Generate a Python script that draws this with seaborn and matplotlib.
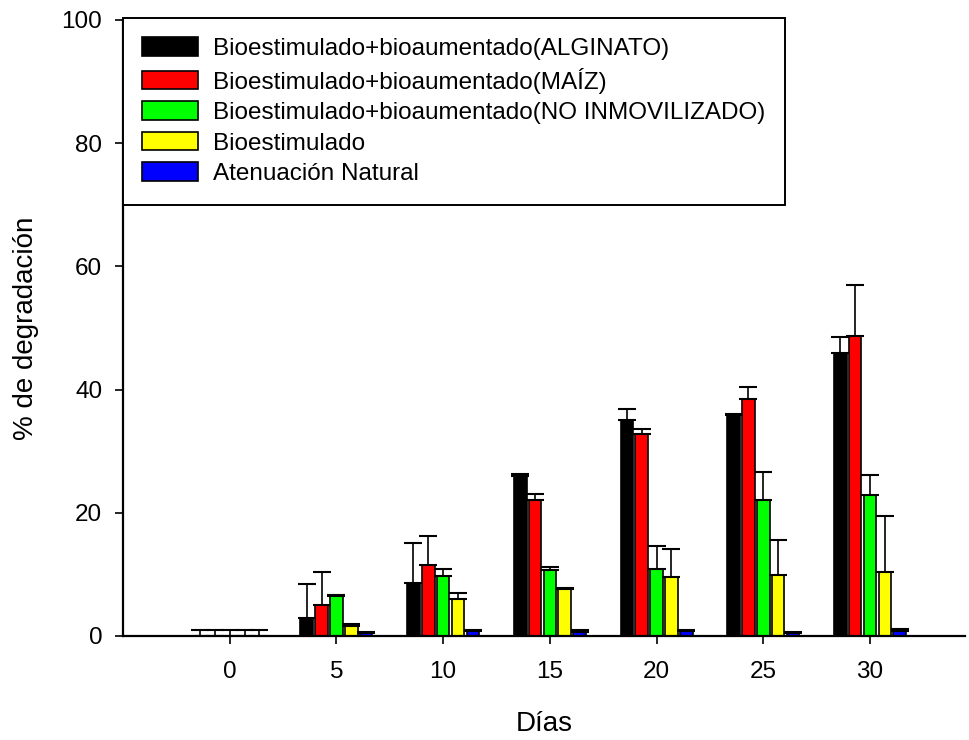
import matplotlib
matplotlib.use("Agg")
import matplotlib.pyplot as plt
import numpy as np
import pandas as pd
import seaborn as sns

# Sampling days and treatments
dias = ["0", "5", "10", "15", "20", "25", "30"]
tratamientos = [
    "Bioestimulado+bioaumentado(ALGINATO)",
    "Bioestimulado+bioaumentado(MAÍZ)",
    "Bioestimulado+bioaumentado(NO INMOVILIZADO)",
    "Bioestimulado",
    "Atenuación Natural",
]
colores = ["#000000", "#ff0000", "#00ff00", "#ffff00", "#0000ff"]

# Mean degradation (%) per treatment
alginato = [0.0, 2.9, 8.55, 26.0, 35.0, 35.9, 46.0]
maiz = [0.0, 5.0, 11.5, 22.1, 32.8, 38.5, 48.7]
no_inmovilizado = [0.0, 6.5, 9.7, 10.7, 10.9, 22.0, 22.9]
bioestimulado = [0.0, 1.6, 5.95, 7.6, 9.6, 9.9, 10.4]
atenuacion = [0.0, 0.45, 0.8, 0.6, 0.8, 0.45, 0.8]

# Standard deviations (drawn upward only)
err_alginato = [0.9, 5.6, 6.5, 0.35, 1.8, 0.08, 2.5]
err_maiz = [0.9, 5.4, 4.7, 1.0, 0.75, 1.9, 8.2]
err_no_inmovilizado = [0.9, 0.2, 1.2, 0.55, 3.65, 4.55, 3.2]
err_bioestimulado = [0.9, 0.3, 1.1, 0.2, 4.5, 5.7, 9.1]
err_atenuacion = [0.9, 0.25, 0.1, 0.3, 0.2, 0.2, 0.3]

medias = [alginato, maiz, no_inmovilizado, bioestimulado, atenuacion]
errores = [err_alginato, err_maiz, err_no_inmovilizado, err_bioestimulado, err_atenuacion]

df = pd.DataFrame(
    [(d, t, m[i], e[i])
     for t, m, e in zip(tratamientos, medias, errores)
     for i, d in enumerate(dias)],
    columns=["dia", "tratamiento", "valor", "error"],
)

sns.set_theme(style="ticks")
plt.rcParams["font.family"] = ["Liberation Sans", "DejaVu Sans"]
plt.rcParams["text.color"] = "black"
plt.rcParams["axes.labelcolor"] = "black"

fig = plt.figure(figsize=(9.69, 7.40), dpi=100)
ax = fig.add_axes([123 / 969, 1 - 636 / 740, (965 - 123) / 969, (636 - 20) / 740])

sns.barplot(
    data=df, x="dia", y="valor", hue="tratamiento",
    order=dias, hue_order=tratamientos, palette=colores, saturation=1,
    errorbar=None, width=0.695, gap=0.15,
    edgecolor="black", linewidth=1.2, ax=ax,
)

# One-sided error bars on top of each bar
bars = [p for p in ax.patches if p.get_width() > 0][: len(df)]
for j, t in enumerate(tratamientos):
    sub = df[df["tratamiento"] == t].set_index("dia").loc[dias]
    xs = [bars[j * len(dias) + i].get_x() + bars[j * len(dias) + i].get_width() / 2
          for i in range(len(dias))]
    vals = sub["valor"].to_numpy()
    errs = sub["error"].to_numpy()
    ax.errorbar(xs, vals, yerr=[np.zeros_like(errs), errs], fmt="none",
                ecolor="black", elinewidth=1.2, capsize=6.2, capthick=1.5, zorder=1)

ax.set_xlim(-1, 6.89)
ax.set_ylim(0, 100)
ax.set_yticks([0, 20, 40, 60, 80, 100])

for s in ["top", "right"]:
    ax.spines[s].set_visible(False)
for s in ["left", "bottom"]:
    ax.spines[s].set_linewidth(1.6)
    ax.spines[s].set_color("black")

ax.tick_params(axis="both", direction="out", length=6, width=1.2,
               colors="black", labelsize=17.5)
ax.tick_params(axis="x", pad=12)
ax.tick_params(axis="y", pad=9)

ax.set_xlabel("Días", fontsize=20, labelpad=20)
ax.set_ylabel("% de degradación", fontsize=20, labelpad=16)

leg = ax.legend(
    loc="upper left", bbox_to_anchor=(0.0, 1.004), borderaxespad=0,
    fontsize=17.5, frameon=True, fancybox=False, edgecolor="black",
    handlelength=2.3, handleheight=0.8, handletextpad=0.6,
    labelspacing=0.32, borderpad=0.8,
)
leg.get_frame().set_linewidth(1.4)
leg.get_frame().set_alpha(1)
for txt in leg.get_texts():
    txt.set_color("black")

fig.savefig("out.png", dpi=100)
